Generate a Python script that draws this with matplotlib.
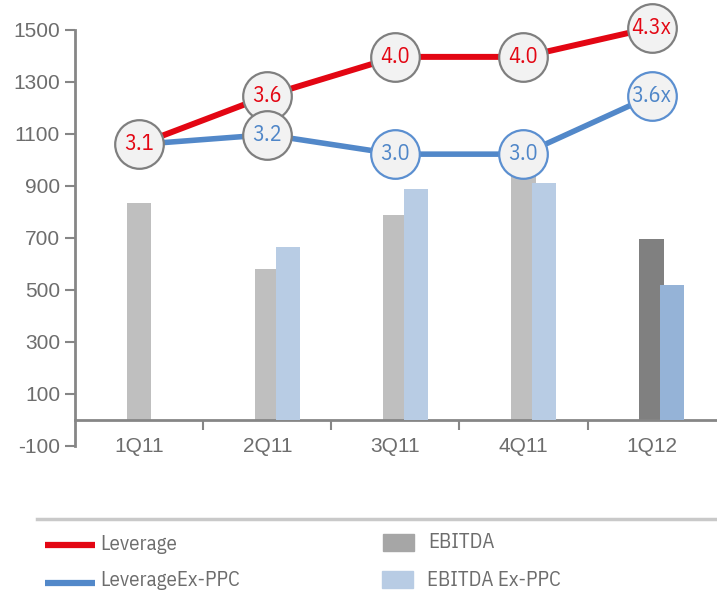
import matplotlib
matplotlib.use("Agg")
import matplotlib.pyplot as plt
from matplotlib.lines import Line2D
from matplotlib.patches import Rectangle
import numpy as np

quarters = ["1Q11", "2Q11", "3Q11", "4Q11", "1Q12"]
ebitda = [835, 581, 788, 965, 696]
ebitda_ex_ppc = [np.nan, 665, 888, 912, 519]
leverage = [3.1, 3.6, 4.0, 4.0, 4.3]
leverage_ex_ppc = [3.1, 3.2, 3.0, 3.0, 3.6]
leverage_labels = ["3.1", "3.6", "4.0", "4.0", "4.3x"]
leverage_ex_labels = [None, "3.2", "3.0", "3.0", "3.6x"]

gray_txt = "#6d6d6d"
axis_col = "#868686"
red = "#e30613"
blue = "#5288c9"
narrow = ["IBM Plex Sans Condensed", "Archivo Narrow", "DejaVu Sans"]

plt.rcParams["font.family"] = ["Liberation Sans", "DejaVu Sans"]
plt.rcParams["axes.unicode_minus"] = False

fig = plt.figure(figsize=(7.17, 5.93), dpi=100)
ax = fig.add_axes([0.105, 0.248, 0.893, 0.702])

x = np.arange(len(quarters))
bar_gray = ["#bfbfbf"] * 4 + ["#808080"]
bar_blue = ["#b8cce4"] * 4 + ["#95b3d7"]
ax.bar(x, ebitda, width=0.19, color=bar_gray, zorder=2)
ax.bar(x + 0.16, ebitda_ex_ppc, width=0.19, color=bar_blue, zorder=3)

ax.set_xlim(-0.5, 4.5)
ax.set_ylim(-100, 1500)
ax.set_yticks(range(-100, 1501, 200))
ax.spines["top"].set_visible(False)
ax.spines["right"].set_visible(False)
ax.spines["bottom"].set_position(("data", 0))
for s in ["left", "bottom"]:
    ax.spines[s].set_color(axis_col)
    ax.spines[s].set_linewidth(2)
ax.tick_params(axis="y", colors=axis_col, labelcolor=gray_txt, labelsize=15,
               length=7, width=1.5, pad=4)
ax.set_xticks(x[:-1] + 0.5)
ax.set_xticklabels([])
ax.tick_params(axis="x", which="major", colors=axis_col, length=7, width=1.5,
               direction="out")
ax.set_xticks(x, minor=True)
ax.set_xticklabels(quarters, minor=True)
ax.tick_params(axis="x", which="minor", length=0, labelcolor=gray_txt,
               labelsize=15, pad=12)

# leverage on a hidden secondary scale
ax2 = ax.twinx()
ax2.set_ylim(0, 4.28)
ax2.axis("off")
ax2.plot(x, leverage_ex_ppc, color=blue, lw=4, zorder=3, clip_on=False,
         solid_capstyle="butt")
ax2.plot(x, leverage, color=red, lw=4.3, zorder=4, clip_on=False,
         solid_capstyle="butt")

for i, (v, lab) in enumerate(zip(leverage, leverage_labels)):
    ax2.plot(i, v, "o", ms=35, mfc="#f2f2f2", mec="#7f7f7f", mew=1.6,
             zorder=7 if i == 0 else 5, clip_on=False)
    ax2.text(i, v, lab, color=red, fontsize=16, family=narrow, ha="center",
             va="center", zorder=8 if i == 0 else 5.5)

ex_edges = [None, "#7f7f7f", "#5b8fd0", "#5b8fd0", "#5b8fd0"]
for i, (v, lab) in enumerate(zip(leverage_ex_ppc, leverage_ex_labels)):
    if lab is None:
        continue
    ax2.plot(i, v, "o", ms=35, mfc="#f2f2f2", mec=ex_edges[i], mew=1.6,
             zorder=6, clip_on=False)
    ax2.text(i, v, lab, color="#4f86c8", fontsize=16, family=narrow,
             ha="center", va="center", zorder=6.5)

# legend drawn by hand
fig.add_artist(Line2D([37 / 717, 1], [1 - 519 / 593] * 2, color="#c9c9c9", lw=2.5))
fig.add_artist(Line2D([45 / 717, 95 / 717], [1 - 545 / 593] * 2, color=red, lw=4.5,
                      solid_capstyle="butt"))
fig.add_artist(Line2D([45 / 717, 95 / 717], [1 - 583 / 593] * 2, color=blue, lw=4.5,
                      solid_capstyle="butt"))
fig.text(100 / 717, 1 - 545 / 593, "Leverage", family=narrow, fontsize=15,
         color=gray_txt, va="center")
fig.text(100 / 717, 1 - 580 / 593, "LeverageEx-PPC", family=narrow, fontsize=15,
         color=gray_txt, va="center")
fig.add_artist(Rectangle((383 / 717, 1 - 551 / 593), 31 / 717, 17 / 593,
                         color="#a6a6a6", transform=fig.transFigure))
fig.add_artist(Rectangle((382 / 717, 1 - 588 / 593), 31 / 717, 17 / 593,
                         color="#b8cce4", transform=fig.transFigure))
fig.text(428 / 717, 1 - 543 / 593, "EBITDA", family=narrow, fontsize=15,
         color=gray_txt, va="center")
fig.text(427 / 717, 1 - 580 / 593, "EBITDA Ex-PPC", family=narrow, fontsize=15,
         color=gray_txt, va="center")

fig.savefig("out.png", dpi=100)
